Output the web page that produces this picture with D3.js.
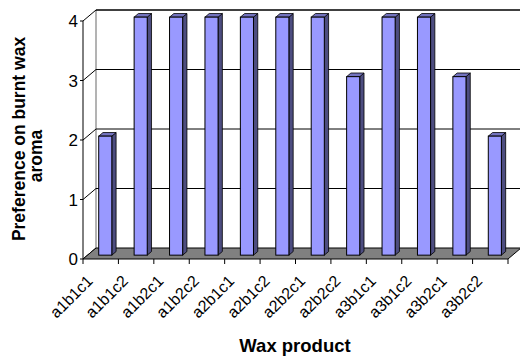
<!DOCTYPE html>
<html>
<head>
<meta charset="utf-8">
<script src="https://cdn.jsdelivr.net/npm/d3@7"></script>
<style>
  html, body { margin: 0; padding: 0; background: #fff; }
  svg { display: block; font-family: "Liberation Sans", Arial, sans-serif; }
</style>
</head>
<body>
<svg id="chart" width="520" height="356"></svg>
<script>
// Preference scores per wax product
const categories = ["a1b1c1", "a1b1c2", "a1b2c1", "a1b2c2", "a2b1c1", "a2b1c2",
                    "a2b2c1", "a2b2c2", "a3b1c1", "a3b1c2", "a3b2c1", "a3b2c2"];
const values = [2, 4, 4, 4, 4, 4, 4, 3, 4, 4, 3, 2];
const yTicks = [0, 1, 2, 3, 4];
const yTitleLines = ["Preference on burnt wax", "aroma"];
const xTitle = "Wax product";

const svg = d3.select("#chart");

// front plane of the 3D box
const x = d3.scaleBand().domain(categories).range([83, 508]).paddingInner(0).paddingOuter(0);
const y = d3.scaleLinear().domain([0, 4]).range([259, 21]);
// depth offset of the back wall
const DX = 13, DY = -11;
const at = (px, py, f) => [px + DX * f, py + DY * f];

const line = d3.line();

// left wall and back wall grid
const g = svg.append("g");
yTicks.forEach(t => {
  const yy = y(t);
  if (t > 0) {
    g.append("line").attr("x1", 83 + DX).attr("x2", 521).attr("y1", yy + DY).attr("y2", yy + DY)
      .attr("stroke", "#000").attr("stroke-width", t === 4 ? 1.6 : 1);
  }
  g.append("path").attr("d", line([[83, yy], at(83, yy, 1)])).attr("stroke", "#000").attr("fill", "none");
  g.append("line").attr("x1", 80).attr("x2", 83).attr("y1", yy).attr("y2", yy).attr("stroke", "#000");
  g.append("text").attr("x", 78).attr("y", yy).attr("dy", "0.36em").attr("text-anchor", "end")
    .attr("font-size", 17).text(t);
});
// left wall back edge
g.append("line").attr("x1", 83 + DX).attr("x2", 83 + DX).attr("y1", y(4) + DY).attr("y2", y(0) + DY)
  .attr("stroke", "#000").attr("stroke-width", 0.6);

// floor
const x0 = x.range()[0], x1 = x.range()[1];
g.append("path")
  .attr("d", line([[x0, y(0)], [x1, y(0)], at(x1, y(0), 1), at(x0, y(0), 1)]) + "Z")
  .attr("fill", "#808080").attr("stroke", "#000").attr("stroke-width", 1);

// front value axis
g.append("line").attr("x1", x0).attr("x2", x0).attr("y1", y(4)).attr("y2", y(0)).attr("stroke", "#000");

// category ticks on floor front edge
d3.range(categories.length + 1).forEach(i => {
  const xx = x0 + i * x.step();
  g.append("line").attr("x1", xx).attr("x2", xx).attr("y1", y(0)).attr("y2", y(0) + 5).attr("stroke", "#000");
});

// bars
const fFront = 0.35, fBack = 0.68;
const barW = x.step() * 0.37;
const bars = svg.append("g");
categories.forEach((c, i) => {
  const cx = x(c) + x.bandwidth() / 2;
  const l = cx - barW / 2, r = cx + barW / 2;
  const b = y(0), t = y(values[i]);
  const [fl, fb] = at(l, b, fFront);
  const [fr] = at(r, b, fFront);
  const ft = at(l, t, fFront)[1];
  const [bl, bb] = at(l, b, fBack);
  const [br] = at(r, b, fBack);
  const bt = at(l, t, fBack)[1];
  // side face
  bars.append("path").attr("d", line([[fr, fb], [br, bb], [br, bt], [fr, ft]]) + "Z")
    .attr("fill", "#4d4d80").attr("stroke", "#000").attr("stroke-width", 0.8).attr("stroke-linejoin", "round");
  // top face
  bars.append("path").attr("d", line([[fl, ft], [fr, ft], [br, bt], [bl, bt]]) + "Z")
    .attr("fill", "#7373bf").attr("stroke", "#000").attr("stroke-width", 0.8).attr("stroke-linejoin", "round");
  // front face
  bars.append("rect").attr("x", fl).attr("y", ft).attr("width", fr - fl).attr("height", fb - ft)
    .attr("fill", "#9999ff").attr("stroke", "#000").attr("stroke-width", 1);
});

// category labels
categories.forEach(c => {
  const cx = x(c) + x.bandwidth() / 2;
  svg.append("text")
    .attr("transform", `translate(${cx - 7},${y(0) + 23}) rotate(-45)`)
    .attr("text-anchor", "end")
    .attr("font-size", 16).text(c);
});

// axis titles
svg.append("text").attr("x", 295).attr("y", 352).attr("text-anchor", "middle")
  .attr("font-size", 18.5).attr("font-weight", "bold").text(xTitle);
const yTitleCenters = [139, 156];
const yTitleBase = [25, 42];
yTitleLines.forEach((s, i) => {
  svg.append("text")
    .attr("transform", `translate(${yTitleBase[i]},${yTitleCenters[i]}) rotate(-90)`)
    .attr("text-anchor", "middle").attr("font-size", 17.5).attr("font-weight", "bold")
    .text(s);
});
</script>
</body>
</html>
